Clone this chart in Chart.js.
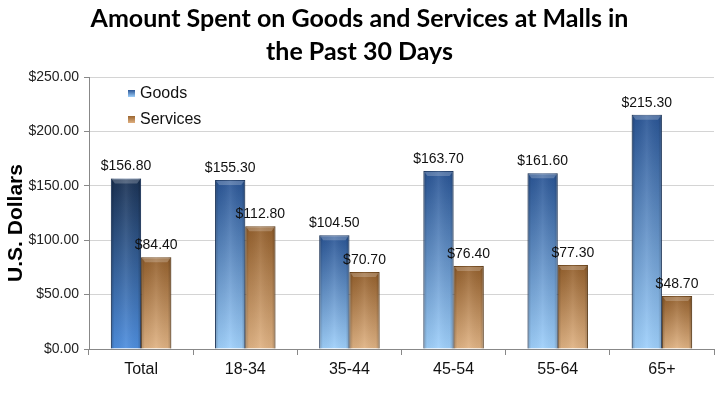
<!DOCTYPE html>
<html>
<head>
<meta charset="utf-8">
<script src="https://cdn.jsdelivr.net/npm/chart.js@4.4.0/dist/chart.umd.min.js"></script>
<style>
  html, body { margin: 0; padding: 0; background: #fff; }
  #wrap { width: 725px; height: 396px; }
</style>
</head>
<body>
<div id="wrap"><canvas id="mallChart" width="725" height="396"></canvas></div>
<script>
const categories = ["Total", "18-34", "35-44", "45-54", "55-64", "65+"];
const goods = [156.80, 155.30, 104.50, 163.70, 161.60, 215.30];
const services = [84.40, 112.80, 70.70, 76.40, 77.30, 48.70];
const yTicks = [0, 50, 100, 150, 200, 250];

// vertical gradient per bar, dark at top, light at base
function barFill(top, bottom) {
  return (c) => {
    const chart = c.chart;
    const y = chart.scales.y;
    if (!chart.chartArea || !y || c.raw == null) return bottom;
    const yTop = y.getPixelForValue(c.raw);
    const yBase = y.getPixelForValue(0);
    const g = chart.ctx.createLinearGradient(0, yTop, 0, yBase);
    const t = (c.datasetIndex === 0 && c.dataIndex === 0) ? ["#1b3254", "#4f8fdf"] : [top, bottom];
    g.addColorStop(0, t[0]);
    g.addColorStop(1, t[1]);
    return g;
  };
}

const fmt = v => "$" + v.toFixed(2);

// bevel shading, value labels, legend and y title
const barExtras = {
  id: "barExtras",
  afterDatasetsDraw(chart) {
    const ctx = chart.ctx;
    chart.data.datasets.forEach((ds, di) => {
      chart.getDatasetMeta(di).data.forEach((bar, i) => {
        const { x, y, base, width } = bar.getProps(["x", "y", "base", "width"], true);
        const left = x - width / 2;
        const h = base - y;
        ctx.save();
        const sg = ctx.createLinearGradient(left, 0, left + width, 0);
        sg.addColorStop(0, "rgba(0,0,0,0.25)");
        sg.addColorStop(0.12, "rgba(0,0,0,0.04)");
        sg.addColorStop(0.5, "rgba(255,255,255,0.08)");
        sg.addColorStop(0.88, "rgba(0,0,0,0.04)");
        sg.addColorStop(1, "rgba(0,0,0,0.25)");
        ctx.fillStyle = sg;
        ctx.fillRect(left, y, width, h);
        // top cap
        ctx.fillStyle = "rgba(255,255,255,0.22)";
        ctx.beginPath();
        ctx.moveTo(left + 1, y + 1);
        ctx.lineTo(left + width - 1, y + 1);
        ctx.lineTo(left + width - 4, y + 5);
        ctx.lineTo(left + 4, y + 5);
        ctx.closePath();
        ctx.fill();
        // label
        ctx.fillStyle = "#111";
        ctx.font = "14px 'Liberation Sans', Arial, sans-serif";
        ctx.textAlign = "center";
        ctx.textBaseline = "alphabetic";
        ctx.fillText(fmt(ds.data[i]), x, y - 8);
        ctx.restore();
      });
    });
  },
  afterDraw(chart) {
    const ctx = chart.ctx;
    const items = [
      { label: "Goods", c1: "#2a5595", c2: "#9fd0fb" },
      { label: "Services", c1: "#9a6530", c2: "#e0b080" }
    ];
    ctx.save();
    ctx.font = "16px 'Liberation Sans', Arial, sans-serif";
    ctx.textBaseline = "middle";
    ctx.textAlign = "left";
    items.forEach((it, k) => {
      const cy = 93 + k * 26;
      const g = ctx.createLinearGradient(0, cy - 3, 0, cy + 4);
      g.addColorStop(0, it.c1);
      g.addColorStop(1, it.c2);
      ctx.fillStyle = g;
      ctx.fillRect(128, cy - 3, 7, 7);
      ctx.fillStyle = "#111";
      ctx.fillText(it.label, 140, cy + 1);
    });
    // y axis title
    ctx.translate(16, 223);
    ctx.rotate(-Math.PI / 2);
    ctx.textAlign = "center";
    ctx.fillStyle = "#000";
    ctx.font = "bold 21px 'Liberation Sans', Arial, sans-serif";
    ctx.fillText("U.S. Dollars", 0, 0);
    ctx.restore();
  }
};

new Chart(document.getElementById("mallChart"), {
  type: "bar",
  data: {
    labels: categories,
    datasets: [
      {
        label: "Goods",
        data: goods,
        backgroundColor: barFill("#2a5595", "#9fd0fb"),
        borderColor: "#2b4a78",
        borderWidth: 1,
        categoryPercentage: 0.58,
        barPercentage: 1.0
      },
      {
        label: "Services",
        data: services,
        backgroundColor: barFill("#935f2c", "#e0b384"),
        borderColor: "#7a5024",
        borderWidth: 1,
        categoryPercentage: 0.58,
        barPercentage: 1.0
      }
    ]
  },
  options: {
    responsive: false,
    animation: false,
    devicePixelRatio: 1,
    layout: { padding: { left: 5, right: 11, top: 0, bottom: 0 } },
    plugins: {
      legend: { display: false },
      tooltip: { enabled: false },
      title: {
        display: true,
        text: ["Amount Spent on Goods and Services at Malls in", "the Past 30 Days"],
        color: "#000",
        font: { family: "Lato, 'Open Sans', sans-serif", size: 25, weight: "bold", lineHeight: 1.32 },
        padding: { top: 2, bottom: 9 }
      }
    },
    scales: {
      x: {
        grid: { display: true, drawOnChartArea: false, offset: true, tickLength: 6, color: "#888" },
        border: { color: "#888" },
        ticks: { color: "#111", font: { family: "'Liberation Sans', Arial", size: 16 }, padding: 5 },
        afterFit(s) { s.height = 47; }
      },
      y: {
        min: 0,
        max: 250,
        afterBuildTicks(s) { s.ticks = yTicks.map(v => ({ value: v })); },
        grid: { color: "#d4d4d4", tickLength: 5, tickColor: "#888" },
        border: { color: "#888" },
        ticks: {
          color: "#222",
          font: { family: "'Liberation Sans', Arial", size: 14 },
          padding: 5,
          callback: v => fmt(v)
        },
        afterFit(s) { s.width = 84; }
      }
    }
  },
  plugins: [barExtras]
});
</script>
</body>
</html>
